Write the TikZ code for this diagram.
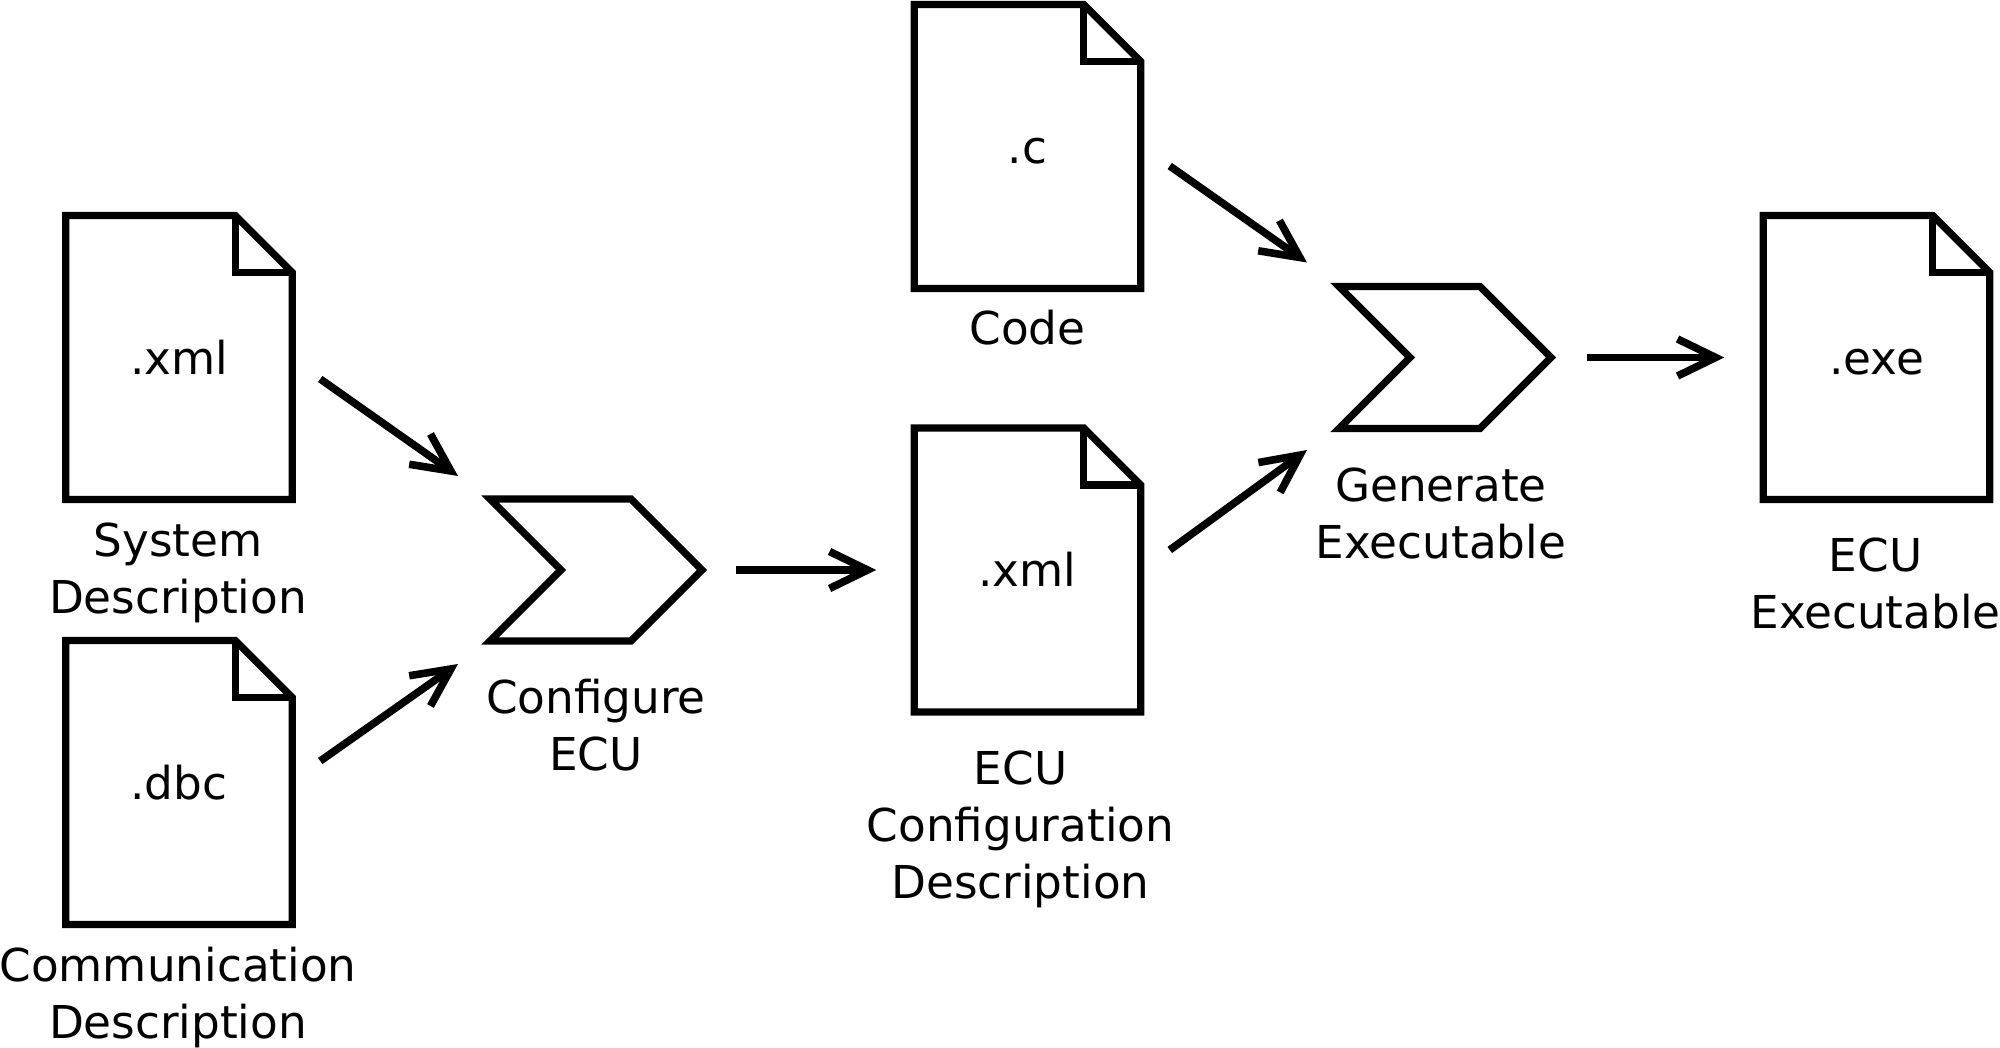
\documentclass[tikz,border=0pt]{standalone}
\usepackage{fontspec}
\setmainfont{DejaVu Sans}
\usetikzlibrary{arrows.meta,positioning,shapes.symbols}
\newcommand{\docfile}[4]{
	\node[docbox] (#1) at (#2,#3) {#4};
	\draw[outline] (#1.north west) -- ([xshift=-57pt]#1.north east) -- ([yshift=-57pt]#1.north east)
		-- (#1.south east) -- (#1.south west) -- cycle;
	\draw[outline] ([xshift=-57pt]#1.north east) |- ([yshift=-57pt]#1.north east);
}

\begin{document}
\begin{tikzpicture}[x=1pt,y=-1pt]
	\tikzset{every node/.style={font=\fontsize{45.3pt}{57pt}\selectfont}}
	\tikzset{outline/.style={draw,line width=7.2pt,miter limit=10}}
	\tikzset{docbox/.style={inner sep=0pt,outer sep=0pt,minimum width=226.5pt,minimum height=284pt,
		text height=33.4pt,text depth=0pt}}
	\tikzset{stepshape/.style={outline,signal,signal to=east,signal from=west,signal pointer angle=90,
		inner sep=0pt,outer sep=0pt,minimum width=212pt,minimum height=142pt}}
	\tikzset{caption/.style={align=center,inner sep=0pt,outer sep=0pt}}
	\tikzset{flow/.style={-{Straight Barb[length=38pt,width=37pt,line width=7.6pt,sharp]},line width=7.6pt}}
	\useasboundingbox (0,0) rectangle (2000,1048);

	\docfile{sysdoc}{179}{357.5}{.xml}
	\docfile{commdoc}{179}{782.5}{.dbc}
	\docfile{codedoc}{1027.5}{146.5}{.c}
	\docfile{cfgdoc}{1027.5}{570}{.xml}
	\docfile{exedoc}{1876.5}{357.5}{.exe}

	\node[stepshape] (configure) at (596,570) {};
	\node[stepshape] (generate) at (1445,357.5) {};

	\node[caption,below=23pt of sysdoc,xshift=-1pt] (syslabel) {System\\Description};
	\node[caption,below=23pt of commdoc,xshift=-1pt] (commlabel) {Communication\\Description};
	\node[caption,below=22pt of codedoc] (codelabel) {Code};
	\node[caption,below=39pt of cfgdoc,xshift=-7pt] (cfglabel) {ECU\\Configuration\\Description};
	\node[caption,below=38pt of exedoc,xshift=-1pt] (exelabel) {ECU\\Executable};
	\node[caption,below=38pt of configure] (configlabel) {Configure\\ECU};
	\node[caption,below=39pt of generate,xshift=-4pt] (genlabel) {Generate\\Executable};

	\draw[flow] ([shift={(28,21.5)}]sysdoc.east) -- ([shift={(-32,-23)}]configure.north west);
	\draw[flow] ([shift={(28,-21.5)}]commdoc.east) -- ([shift={(-32,23)}]configure.south west);
	\draw[flow] ([shift={(34,0)}]configure.east) -- ([shift={(-38,0)}]cfgdoc.west);
	\draw[flow] ([shift={(29,19.5)}]codedoc.east) -- ([shift={(-32,-24)}]generate.north west);
	\draw[flow] ([shift={(29,-20)}]cfgdoc.east) -- ([shift={(-32,21.5)}]generate.south west);
	\draw[flow] ([shift={(36,0)}]generate.east) -- ([shift={(-39,0)}]exedoc.west);
\end{tikzpicture}
\end{document}
